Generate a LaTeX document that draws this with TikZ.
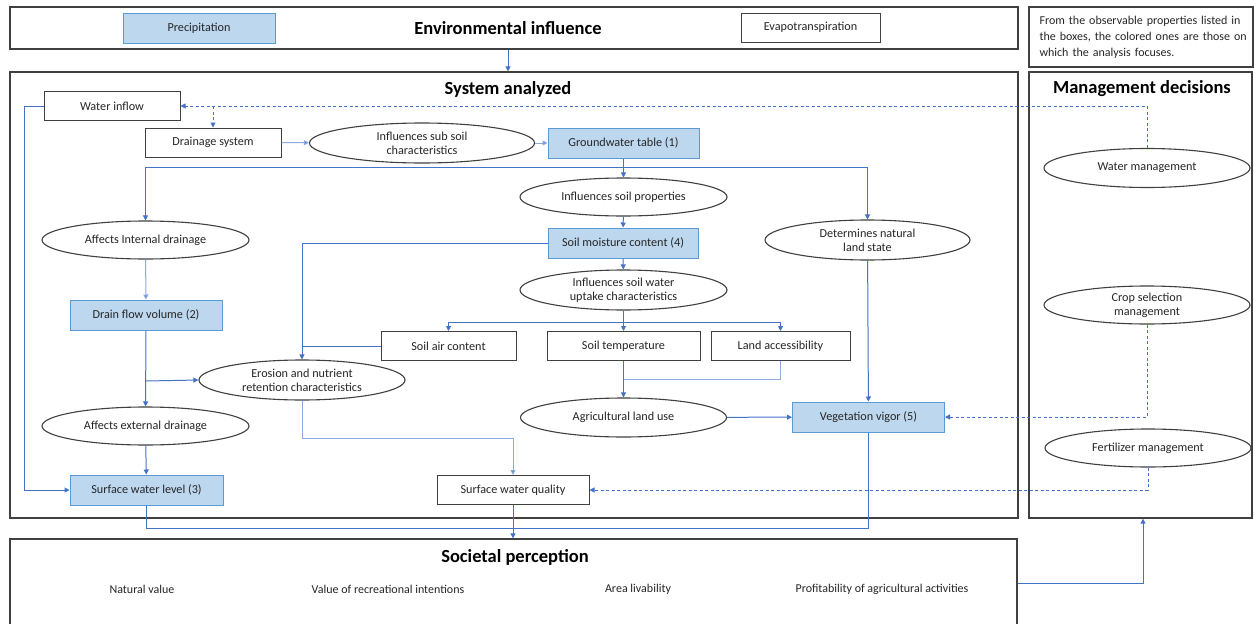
\documentclass[tikz,border=0pt]{standalone}
\usepackage{fontspec}
\setmainfont{Carlito}
\usetikzlibrary{shapes.geometric,arrows.meta}
\definecolor{lnblue}{HTML}{4472C4}
\definecolor{ltblue}{HTML}{8FAADC}
\definecolor{fillblue}{HTML}{BDD7EE}
\definecolor{fbord}{HTML}{5B9BD5}
\definecolor{frame}{HTML}{404040}
\definecolor{txt}{HTML}{262626}
\tikzset{
  lbl/.style={font=\fontsize{12.2}{14}\selectfont, text=txt, align=center},
  wbox/.style={lbl, draw=frame, line width=1pt, fill=white, inner sep=0pt, minimum height=29pt},
  bbox/.style={lbl, draw=fbord, line width=1pt, fill=fillblue, inner sep=0pt, minimum height=30pt},
  ell/.style={lbl, ellipse, draw=frame, line width=1.1pt, fill=white, inner sep=0pt, minimum width=207pt, minimum height=38pt},
  panel/.style={draw=frame, line width=1.3pt, inner sep=0pt},
  ttl/.style={font=\bfseries\fontsize{18.5}{21}\selectfont, text=black},
  tip/.style={-{Triangle[length=5pt,width=5pt]}},
  conn/.style={draw=lnblue, line width=1pt, tip},
  lconn/.style={draw=ltblue, line width=1pt, -{Triangle[length=5pt,width=5pt,fill=lnblue]}},
  lin/.style={draw=lnblue, line width=1pt},
  llin/.style={draw=ltblue, line width=1pt},
  dconn/.style={draw=lnblue, line width=1pt, dash pattern=on 3pt off 2.5pt, tip},
  soci/.style={lbl, font=\fontsize{12}{14}\selectfont},
}
\begin{document}
\begin{tikzpicture}[x=1pt,y=-1pt]
\useasboundingbox (0,0) rectangle (1254,624);
\fill[white] (0,0) rectangle (1254,624);

% panels
\node[panel, minimum width=1008pt, minimum height=42pt] (env) at (514,28) {};
\node[panel, minimum width=224pt, minimum height=60pt] (note) at (1141,37) {};
\node[panel, minimum width=1008pt, minimum height=446pt] (sys) at (514,295) {};
\node[panel, minimum width=223pt, minimum height=446pt] (man) at (1140.5,295) {};
\node[panel, minimum width=1007pt, minimum height=112pt] (soc) at (513.5,595) {};

% titles
\node[ttl] (envt) at (508,28) {Environmental influence};
\node[ttl] (syst) at (508,89) {System analyzed};
\node[ttl] (mant) at (1142,89) {Management decisions};
\node[ttl] (soct) at (515,557) {Societal perception};

\node[lbl, anchor=north west, align=left, text width=214pt, font=\fontsize{12}{16}\selectfont] (notet) at (1036,13) {From the observable properties listed in the boxes, the colored ones are those on which the analysis focuses.};

% environmental influence
\node[bbox, minimum width=152pt] (pre) at (199,28) {Precipitation};
\node[wbox, minimum width=139pt] (eva) at (810.5,27.5) {Evapotranspiration};

% societal perception items
\node[soci] (nv) at (142,589) {Natural value};
\node[soci] (vri) at (388,589) {Value of recreational intentions};
\node[soci] (al) at (638,589) {Area livability};
\node[soci] (paa) at (882,589) {Profitability of agricultural activities};

% system nodes
\node[wbox, minimum width=136pt] (win) at (112,106) {Water inflow};
\node[wbox, minimum width=136pt] (ds) at (213,142.5) {Drainage system};
\node[ell, minimum width=225pt, minimum height=40pt] (iss) at (422,143) {Influences sub soil\\characteristics};
\node[bbox, minimum width=151pt] (gw) at (623.5,143) {Groundwater table (1)};
\node[ell] (isp) at (623.5,197) {Influences soil properties};
\node[bbox, minimum width=150pt] (smc) at (623,243) {Soil moisture content (4)};
\node[ell, minimum height=40pt] (iwu) at (623.5,290) {Influences soil water\\uptake characteristics};
\node[ell, minimum width=205pt, minimum height=40pt] (dnl) at (867.5,240) {Determines natural\\land state};
\node[ell] (aid) at (145.5,240) {Affects Internal drainage};
\node[bbox, minimum width=152pt] (dfv) at (146,315) {Drain flow volume (2)};
\node[wbox, minimum width=135pt] (sac) at (448.5,346) {Soil air content};
\node[wbox, minimum width=153pt] (st) at (623.5,346) {Soil temperature};
\node[wbox, minimum width=139pt] (la) at (780.5,346) {Land accessibility};
\node[ell, minimum width=206pt, minimum height=40pt] (enr) at (302,380) {Erosion and nutrient\\retention characteristics};
\node[ell] (aed) at (145.5,426) {Affects external drainage};
\node[ell, minimum width=206pt, minimum height=39pt] (alu) at (623.5,417.5) {Agricultural land use};
\node[bbox, minimum width=152pt] (vv) at (868.5,417) {Vegetation vigor (5)};
\node[bbox, minimum width=153pt] (swl) at (146.5,490) {Surface water level (3)};
\node[wbox, minimum width=152pt] (swq) at (513,490) {Surface water quality};

% management nodes
\node[ell, minimum width=206pt, minimum height=39pt] (wm) at (1147,168) {Water management};
\node[ell, minimum width=206pt, minimum height=38pt] (csm) at (1147,305) {Crop selection\\management};
\node[ell, minimum width=206pt, minimum height=38pt] (fm) at (1148,448) {Fertilizer management};

% connectors
\draw[conn] ([xshift=-6pt]env.south) -- ([xshift=-6pt]sys.north);

\draw[dconn] (wm.north) |- (win.east);
\draw[dconn] (ds.north |- win.east) -- (ds.north);

\draw[lconn] (ds) -- (iss);
\draw[lconn] (iss) -- (gw);

\coordinate (j1) at (623.5,167);
\draw[lin] (gw.south) -- (j1);
\draw[conn] (j1) -- (isp.north);
\draw[conn] (j1) -| (aid.north);
\draw[conn] (j1) -| (dnl.north);

\draw[conn] (isp) -- (smc);
\draw[conn] (smc) -- (iwu);
\draw[conn] (smc.west) -| (enr.north);
\draw[lin] (sac.west) -- (sac.west -| enr.north);

\coordinate (j2) at (623.5,322);
\draw[lin] (iwu.south) -- (j2);
\draw[conn] (j2) -| (sac.north);
\draw[conn] (j2) -- (st.north);
\draw[conn] (j2) -| (la.north);

\coordinate (j3) at (623.5,379);
\draw[conn] (st.south) -- (alu.north);
\draw[llin] (la.south) |- (j3);
\draw[conn] (alu) -- (vv);
\draw[conn] (dnl) -- (vv);

\draw[lconn] (aid) -- (dfv);
\draw[conn] (dfv) -- (aed);
\coordinate (j4) at (146,381);
\draw[conn] (j4) -- (enr.west);
\draw[conn] (aed) -- (swl);
\draw[conn] (win.west) -- ++(-19,0) |- (swl.west);

\draw[lconn] (enr.south) -- ++(0,38) -| (swq.north);

\draw[lin] (swl.south) -- ++(0,23) -| (vv.south);
\draw[conn] (swq.south) -- (swq.south |- soc.north);

\draw[dconn] (csm.south) |- (vv.east);
\draw[dconn] (fm.south) |- (swq.east);

\draw[conn] ([yshift=12pt]soc.east) -| ([xshift=2.5pt]man.south);
\end{tikzpicture}
\end{document}
